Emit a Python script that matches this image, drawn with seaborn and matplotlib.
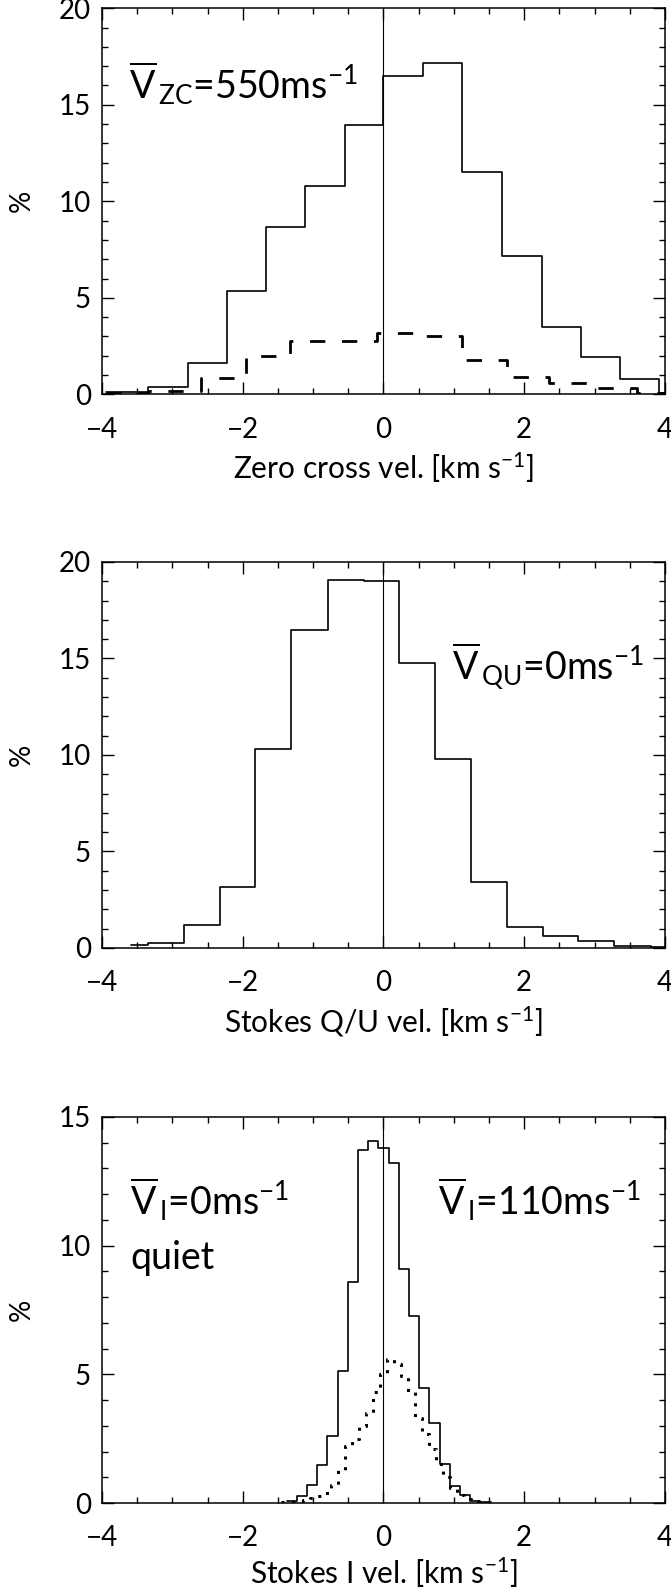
import numpy as np
import matplotlib
matplotlib.use("Agg")
import matplotlib.pyplot as plt
import seaborn as sns

# top panel: zero crossing velocities (all pixels, solid) and subset (dashed)
zc_edges = [-3.95, -3.34, -2.78, -2.23, -1.67, -1.11, -0.55, 0.0, 0.56, 1.12, 1.68, 2.25, 2.80, 3.36, 3.92, 4.0]
zc_all = [0.12, 0.40, 1.6, 5.34, 8.69, 10.79, 13.94, 16.47, 17.19, 11.53, 7.18, 3.49, 1.94, 0.81, 0.05]
zc_sub_edges = [-3.95, -3.34, -2.59, -1.96, -1.33, -0.09, 0.45, 1.12, 1.75, 2.35, 2.98, 3.6, 4.0]
zc_sub = [0.08, 0.17, 0.83, 2.0, 2.75, 3.2, 3.0, 1.8, 0.9, 0.6, 0.34, 0.08]

# middle panel: Stokes Q/U velocities
qu_edges = [-3.59, -3.34, -2.83, -2.33, -1.82, -1.31, -0.79, -0.28, 0.22, 0.73, 1.24, 1.76, 2.26, 2.77, 3.28, 3.80, 4.0]
qu_vals = [0.14, 0.26, 1.17, 3.18, 10.29, 16.45, 19.07, 19.02, 14.77, 9.81, 3.44, 1.08, 0.6, 0.36, 0.1, 0.05]

# bottom panel: Stokes I velocities, quiet (solid) and other (dotted)
si_edges = [-1.3775, -1.2325, -1.0875, -0.9425, -0.7975, -0.6525, -0.5075, -0.3625, -0.2175, -0.0725,
            0.0725, 0.2175, 0.3625, 0.5075, 0.6525, 0.7975, 0.9425, 1.0875, 1.2325, 1.3775, 1.5225]
si_quiet = [0.06, 0.27, 0.71, 1.49, 2.62, 5.14, 8.57, 13.73, 14.06, 13.8,
            13.22, 9.11, 7.27, 4.47, 3.1, 1.52, 0.68, 0.32, 0.09, 0.04]
si2_edges = [-1.45, -1.35, -1.25, -1.15, -1.05, -0.95, -0.85, -0.75, -0.65, -0.55, -0.45, -0.35, -0.25, -0.15, -0.05,
             0.05, 0.15, 0.25, 0.35, 0.45, 0.55, 0.65, 0.75, 0.85, 0.95, 1.05, 1.15, 1.25, 1.35, 1.45]
si_other = [0.04, 0.05, 0.07, 0.1, 0.19, 0.28, 0.4, 0.7, 1.3, 2.2, 2.5, 3.0, 3.5, 4.3, 5.0,
            5.6, 5.4, 4.95, 4.3, 3.3, 2.7, 2.1, 1.5, 1.0, 0.6, 0.3, 0.15, 0.08, 0.04]

xlabels = ["Zero cross vel. [km s$^{-1}$]", "Stokes Q/U vel. [km s$^{-1}$]", "Stokes I vel. [km s$^{-1}$]"]
ymax = [20, 20, 15]

sns.set_style("ticks")
plt.rcParams["font.family"] = ["Lato", "DejaVu Sans"]
plt.rcParams["mathtext.fontset"] = "custom"
plt.rcParams["mathtext.rm"] = "Lato"
plt.rcParams["mathtext.it"] = "Lato"
plt.rcParams["axes.linewidth"] = 1.1
for k in ["text.color", "axes.labelcolor", "xtick.color", "ytick.color", "axes.edgecolor"]:
    plt.rcParams[k] = "black"


def hist(ax, edges, vals, **kw):
    centers = [(a + b) / 2 for a, b in zip(edges[:-1], edges[1:])]
    sns.histplot(x=centers, weights=vals, bins=list(edges), element="step", fill=False,
                 color="black", ax=ax, **kw)


fig = plt.figure(figsize=(6.71, 15.9), dpi=100)
bottoms = [0.752, 0.4038, 0.0547]
axes = [fig.add_axes([0.152, b, 0.839, 0.2428]) for b in bottoms]

hist(axes[0], zc_edges, zc_all, linewidth=1.2)
hist(axes[0], zc_sub_edges, zc_sub, linewidth=2.0, linestyle=(0, (5.5, 6)))
hist(axes[1], qu_edges, qu_vals, linewidth=1.2)
hist(axes[2], si_edges, si_quiet, linewidth=1.2)
hist(axes[2], si2_edges, si_other, linewidth=2.2, linestyle=(0, (1, 2.5)))

for i, ax in enumerate(axes):
    ax.axvline(0, color="black", linewidth=0.8)
    ax.set_xlim(-4, 4)
    ax.set_ylim(0, ymax[i])
    ax.set_xticks([-4, -2, 0, 2, 4])
    ax.set_xticks(np.arange(-4, 4.01, 0.5), minor=True)
    ax.set_yticks(np.arange(0, ymax[i] + 0.1, 5))
    ax.set_yticks(np.arange(0, ymax[i] + 0.1, 1), minor=True)
    ax.tick_params(which="both", direction="in", top=True, right=True, width=1, labelsize=20)
    ax.tick_params(which="major", length=8.5)
    ax.tick_params(which="minor", length=4.3)
    ax.tick_params(axis="x", pad=16)
    ax.tick_params(axis="y", pad=8)
    ax.set_xlabel(xlabels[i], fontsize=21.5, labelpad=6 if i < 2 else 3)
    ax.set_ylabel("%", fontsize=20)
    ax.yaxis.set_label_coords(-0.12, 0.5)

tsize = 27
axes[0].text(-3.62, 15.3, r"$\overline{\mathrm{V}}_{\,\mathrm{ZC}}$=550ms$^{-1}$", fontsize=tsize)
axes[1].text(0.98, 13.9, r"$\overline{\mathrm{V}}_{\,\mathrm{QU}}$=0ms$^{-1}$", fontsize=tsize)
axes[2].text(-3.6, 11.2, r"$\overline{\mathrm{V}}_{\,\mathrm{I}}$=0ms$^{-1}$", fontsize=tsize)
axes[2].text(-3.6, 9.1, "quiet", fontsize=tsize)
axes[2].text(0.78, 11.2, r"$\overline{\mathrm{V}}_{\,\mathrm{I}}$=110ms$^{-1}$", fontsize=tsize)

fig.savefig("out.png", dpi=100)
